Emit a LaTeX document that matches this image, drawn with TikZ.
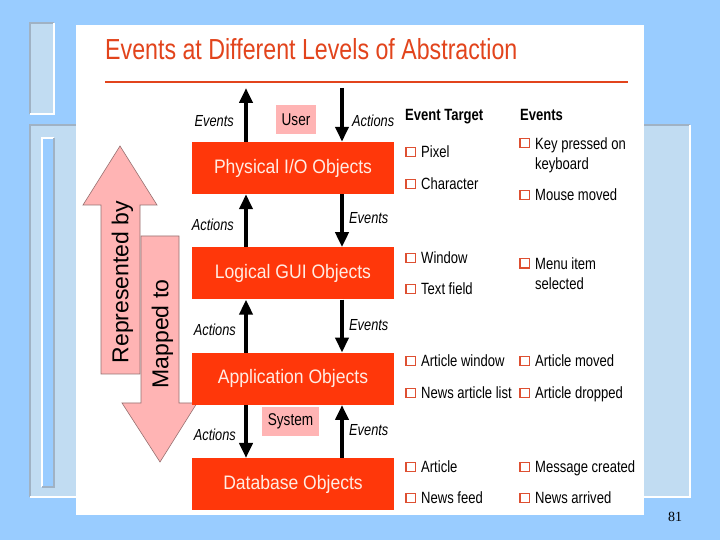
\documentclass[tikz,border=0pt]{standalone}
\usepackage{fontspec}
\setmainfont{Liberation Sans}
\newfontfamily\narrowsf[FakeStretch=0.8]{Liberation Sans}
\newfontfamily\boxsf[FakeStretch=0.9]{Liberation Sans}
\newfontfamily\numfont{Liberation Serif}
\usetikzlibrary{arrows.meta, positioning}
\definecolor{slideblue}{RGB}{153,204,255}
\definecolor{paleblue}{RGB}{193,220,242}
\definecolor{edgegray}{RGB}{160,178,196}
\definecolor{boxred}{RGB}{255,55,10}
\definecolor{boxtext}{RGB}{255,236,228}
\definecolor{titlered}{RGB}{226,68,28}
\definecolor{tagpink}{RGB}{255,180,180}
\definecolor{arrowedge}{RGB}{150,112,112}
\definecolor{bulletred}{RGB}{222,80,50}
\tikzset{
  tier/.style={
    minimum width=202pt,
    minimum height=52pt,
    fill=boxred,
    text=boxtext,
    font=\boxsf\fontsize{19.5}{22}\selectfont
  },
  flow/.style={draw, line width=4pt, -{Triangle[length=15pt, width=13pt]}},
  lbl/.style={
    inner sep=0pt,
    text height=11.5pt,
    text depth=0pt,
    font=\narrowsf\itshape\fontsize{16}{18}\selectfont
  },
  tag/.style={
    fill=tagpink,
    minimum height=29pt,
    inner xsep=5.5pt,
    inner ysep=0pt,
    font=\narrowsf\fontsize{17}{19}\selectfont
  },
  colhead/.style={
    anchor=west,
    inner sep=0pt,
    text height=11.7pt,
    text depth=0pt,
    font=\narrowsf\bfseries\fontsize{16.3}{20}\selectfont
  },
  bullet/.style={
    draw=bulletred,
    fill=white,
    line width=1.3pt,
    minimum size=9.5pt,
    inner sep=0pt,
    text height=0pt,
    text depth=0pt
  },
  item/.style={
    inner sep=0pt,
    font=\narrowsf\fontsize{16.3}{20}\selectfont,
    label={[bullet, xshift=-5pt, yshift=#1]left:{}}
  },
  item/.default=0pt,
  oneline/.style={item, anchor=west, text height=11.7pt, text depth=0pt},
  bigarrow/.style={fill=tagpink, draw=arrowedge, line width=0.6pt},
  bigtext/.style={
    rotate=90,
    inner sep=0pt,
    text height=16.5pt,
    text depth=0pt,
    font=\fontsize{23}{25}\selectfont
  }
}
\begin{document}
\begin{tikzpicture}[x=1pt, y=1pt, node distance=53pt]
  \useasboundingbox (0,0) rectangle (720,540);
  % slide background
  \fill [slideblue] (0,0) rectangle (720,540);
  \fill [paleblue] (30,426) rectangle (54,517);
  \draw [edgegray, line width=1.5pt] (30,426) -- (30,517) -- (54,517);
  \draw [white, line width=1.5pt] (54,517) -- (54,426) -- (30,426);
  \fill [paleblue] (30,43) rectangle (690,415);
  \draw [edgegray, line width=1.5pt] (30,43) -- (30,415) -- (690,415);
  \draw [white, line width=1.5pt] (690,415) -- (690,43) -- (30,43);
  \fill [slideblue] (42,53) rectangle (54,402);
  \draw [white, line width=1.5pt] (42,53) -- (42,402) -- (54,402);
  \draw [edgegray, line width=1.5pt] (54,402) -- (54,53) -- (42,53);
  \fill [white] (76,25) rectangle (644,515);
  \node (pagenum) [font=\numfont\fontsize{14}{16}\selectfont] at (675,23) {81};
  % title
  \node (title) [anchor=base west, inner sep=0pt, text=titlered,
    font=\narrowsf\fontsize{29}{32}\selectfont] at (105,480)
    {Events at Different Levels of Abstraction};
  \draw [titlered, line width=1.3pt] (105,458) -- (628,458);
  % big pink arrows
  \draw [bigarrow] (101,166) -- (101,335) -- (83,335) -- (120,394)
    -- (157,335) -- (140,335) -- (140,166) -- cycle;
  \draw [bigarrow] (141,304) -- (179,304) -- (179,137) -- (197,137)
    -- (160,78) -- (122,137) -- (141,137) -- cycle;
  \node (repr) [bigtext] at (120,258) {Represented by};
  \node (mapped) [bigtext] at (160,206) {Mapped to};
  % levels
  \node (phys) [tier] at (293,372) {Physical I/O Objects};
  \node (logic) [tier, below=of phys] {Logical GUI Objects};
  \node (appl) [tier, below=of logic] {Application Objects};
  \node (dbase) [tier, below=of appl] {Database Objects};
  \coordinate (lcol) at (246,0);
  \coordinate (rcol) at (342,0);
  \coordinate (ltop) at (246,452);
  \coordinate (rtop) at (342,452);
  \draw [flow] (phys.north -| lcol) -- (ltop);
  \draw [flow] (rtop) -- (phys.north -| rcol);
  \draw [flow] (logic.north -| lcol) -- (phys.south -| lcol);
  \draw [flow] (phys.south -| rcol) -- (logic.north -| rcol);
  \draw [flow] (appl.north -| lcol) -- (logic.south -| lcol);
  \draw [flow] (logic.south -| rcol) -- (appl.north -| rcol);
  \draw [flow] (appl.south -| lcol) -- (dbase.north -| lcol);
  \draw [flow] (dbase.north -| rcol) -- (appl.south -| rcol);
  % arrow labels
  \node (ev0) [lbl, anchor=east] at (234,419) {Events};
  \node (ac0) [lbl, anchor=west] at (352,419) {Actions};
  \node (user) [tag] at (296,420.5) {User};
  \node (ac1) [lbl, anchor=east] at (234,315) {Actions};
  \node (ev1) [lbl, anchor=west] at (349,322) {Events};
  \node (ac2) [lbl, anchor=east] at (236,210) {Actions};
  \node (ev2) [lbl, anchor=west] at (349,215) {Events};
  \node (ac3) [lbl, anchor=east] at (236,105) {Actions};
  \node (ev3) [lbl, anchor=west] at (349,110) {Events};
  \node (system) [tag] at (290.5,118.5) {System};
  % event targets
  \node (tgthead) [colhead] at (405,425) {Event Target};
  \node (pixel) [oneline] at (421,388) {Pixel};
  \node (char) [oneline] at (421,356) {Character};
  \node (window) [oneline] at (421,282) {Window};
  \node (field) [oneline] at (421,251) {Text field};
  \node (artwin) [oneline] at (421,179) {Article window};
  \node (artlist) [oneline] at (421,147) {News article list};
  \node (article) [oneline] at (421,73) {Article};
  \node (feed) [oneline] at (421,42) {News feed};
  % events
  \node (evhead) [colhead] at (520,425) {Events};
  \node (keypress) [item=11.7pt, anchor=north west, align=left] at (535,403)
    {Key pressed on\\keyboard};
  \node (mouse) [oneline] at (535,345) {Mouse moved};
  \node (menu) [item=10pt, anchor=north west, align=left] at (535,283)
    {Menu item\\selected};
  \node (moved) [oneline] at (535,179) {Article moved};
  \node (dropped) [oneline] at (535,147) {Article dropped};
  \node (created) [oneline] at (535,73) {Message created};
  \node (arrived) [oneline] at (535,42) {News arrived};
\end{tikzpicture}
\end{document}
